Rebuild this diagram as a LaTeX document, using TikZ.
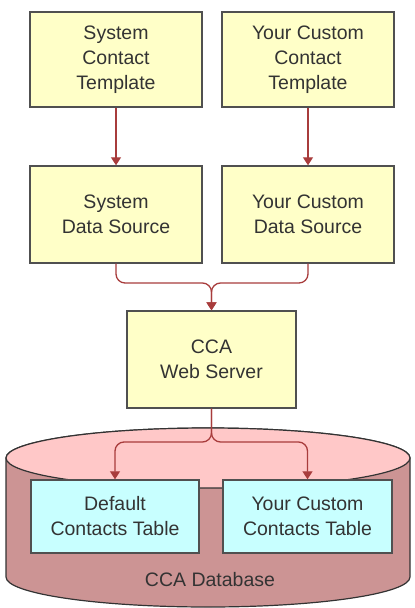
\documentclass[tikz,border=0pt]{standalone}
\usepackage{fontspec}
\setmainfont{Liberation Sans}
\usetikzlibrary{arrows.meta}
\definecolor{boxyellow}{HTML}{FFFFC8}
\definecolor{boxcyan}{HTML}{C8FFFF}
\definecolor{boxedge}{HTML}{505050}
\definecolor{arrowred}{HTML}{A83C3C}
\definecolor{cyltop}{HTML}{FFC8C8}
\definecolor{cylside}{HTML}{CC9494}
\tikzset{
  txt/.style={font=\fontsize{19.5}{25}\selectfont, text=black!80},
  ybox/.style={txt, draw=boxedge, fill=boxyellow, line width=1.4pt, align=center, inner sep=0pt},
  cbox/.style={txt, draw=boxedge, fill=boxcyan, line width=1.4pt, align=center, inner sep=0pt},
  conn/.style={draw=arrowred, line width=1.3pt, rounded corners=9pt,
    -{Triangle[length=8pt,width=10pt]}},
}
\begin{document}
\begin{tikzpicture}[x=1pt,y=-1pt]
\useasboundingbox (0,0) rectangle (415,608);
% cylinder
\fill[cylside, draw=black!80, line width=1.2pt]
  (6,458) -- (6,577) arc[start angle=180, end angle=0, x radius=202, y radius=30]
  -- (410,458) arc[start angle=360, end angle=180, x radius=202, y radius=30] -- cycle;
\fill[cyltop, draw=black!80, line width=1.2pt] (208,458) ellipse[x radius=202, y radius=30];
\node[txt] (dblabel) at (210,580) {CCA Database};
% boxes
\node[ybox, minimum width=172pt, minimum height=95pt] (sct) at (116,59.5) {System\\Contact\\Template};
\node[ybox, minimum width=172pt, minimum height=95pt] (cct) at (308,59.5) {Your Custom\\Contact\\Template};
\node[ybox, minimum width=172pt, minimum height=97pt] (sds) at (116,214.5) {System\\Data Source};
\node[ybox, minimum width=172pt, minimum height=97pt] (cds) at (308,214.5) {Your Custom\\Data Source};
\node[ybox, minimum width=169pt, minimum height=97pt] (cca) at (211.5,359.5) {CCA\\Web Server};
\node[cbox, minimum width=168pt, minimum height=73pt] (dct) at (115,516.5) {Default\\Contacts Table};
\node[cbox, minimum width=169pt, minimum height=73pt] (uct) at (307.5,516.5) {Your Custom\\Contacts Table};
% connectors
\coordinate (m) at (211.5,283);
\coordinate (n) at (211.5,442);
\draw[conn] (sct) -- (sds);
\draw[conn] (cct) -- (cds);
\draw[conn] (sds.south) |- (m) -- (cca.north);
\draw[conn] (cds.south) |- (m) -- (cca.north);
\draw[conn] (cca.south) -- (n) -| (dct.north);
\draw[conn] (cca.south) -- (n) -| (uct.north);
\end{tikzpicture}
\end{document}
